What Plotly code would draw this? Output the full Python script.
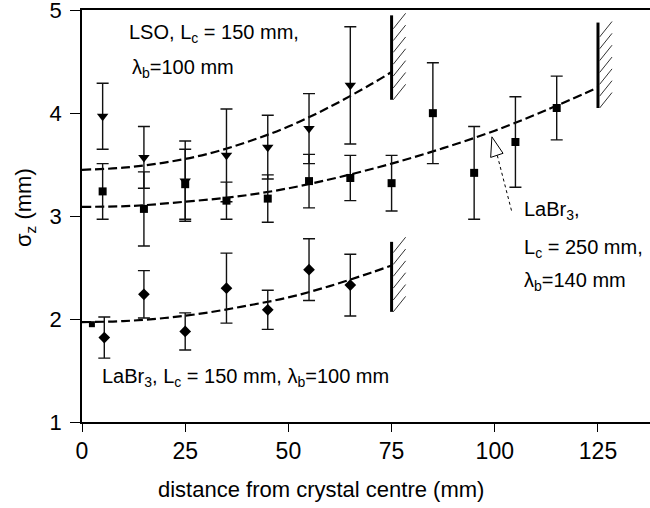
import plotly.graph_objects as go

x_lso = [5, 15, 25, 35, 45, 55, 65]
y_lso = [3.97, 3.57, 3.34, 3.59, 3.67, 3.85, 4.27]
e_lso = [0.32, 0.30, 0.39, 0.45, 0.31, 0.34, 0.57]

x_l250 = [5, 15, 25, 35, 45, 55, 65, 75, 85, 95, 105, 115]
y_l250 = [3.24, 3.07, 3.31, 3.15, 3.17, 3.34, 3.37, 3.32, 4.00, 3.42, 3.72, 4.05]
e_l250 = [0.27, 0.36, 0.34, 0.18, 0.23, 0.26, 0.22, 0.27, 0.49, 0.45, 0.44, 0.31]

x_l150 = [5.4, 15, 25, 35, 45, 55, 65]
y_l150 = [1.82, 2.24, 1.88, 2.30, 2.09, 2.48, 2.33]
e_l150 = [0.20, 0.23, 0.18, 0.34, 0.19, 0.30, 0.30]

x_extra = [2.4]
y_extra = [1.95]

# dashed model curves
fit_lso_x = [0, 10, 20, 30, 40, 50, 60, 70, 75]
fit_lso_y = [3.45, 3.47, 3.52, 3.60, 3.72, 3.87, 4.06, 4.28, 4.40]
fit_l250_x = [0, 12.5, 25, 37.5, 50, 62.5, 75, 87.5, 100, 112.5, 125]
fit_l250_y = [3.09, 3.10, 3.14, 3.19, 3.27, 3.38, 3.51, 3.66, 3.83, 4.03, 4.25]
fit_l150_x = [0, 10, 20, 30, 40, 50, 60, 70, 75]
fit_l150_y = [1.97, 1.98, 2.01, 2.06, 2.13, 2.21, 2.32, 2.45, 2.52]

# crystal ends (x, bottom, top)
walls = [(75, 4.13, 4.95), (125, 4.05, 4.88), (75, 2.07, 2.75)]

x_ticks = [0, 25, 50, 75, 100, 125]
y_ticks = [1, 2, 3, 4, 5]

FONT = "Liberation Sans, Arial, sans-serif"

fig = go.Figure()

for fx, fy in [(fit_lso_x, fit_lso_y), (fit_l250_x, fit_l250_y), (fit_l150_x, fit_l150_y)]:
    fig.add_trace(go.Scatter(x=fx, y=fy, mode="lines", line_shape="spline",
                             line=dict(color="black", width=2.2, dash="9px,4px"),
                             hoverinfo="skip"))

err = dict(type="data", thickness=1.4, width=6, color="#111")
fig.add_trace(go.Scatter(x=x_lso, y=y_lso, mode="markers",
                         error_y=dict(array=e_lso, **err),
                         marker=dict(symbol="triangle-down", size=10, color="black")))
fig.add_trace(go.Scatter(x=x_l250, y=y_l250, mode="markers",
                         error_y=dict(array=e_l250, **err),
                         marker=dict(symbol="square", size=8, color="black")))
fig.add_trace(go.Scatter(x=x_l150, y=y_l150, mode="markers",
                         error_y=dict(array=e_l150, **err),
                         marker=dict(symbol="diamond", size=9, color="black")))
fig.add_trace(go.Scatter(x=x_extra, y=y_extra, mode="markers",
                         marker=dict(symbol="square", size=6, color="black")))

shapes = []
for wx, yb, yt in walls:
    shapes.append(dict(type="line", x0=wx, x1=wx, y0=yb, y1=yt,
                       line=dict(color="black", width=3)))
    y = yb
    while y < yt - 0.05:
        shapes.append(dict(type="line", x0=wx + 0.4, y0=y, x1=wx + 3.4, y1=y + 0.15,
                           line=dict(color="#333", width=1)))
        y += 0.115

# arrow pointing to the LaBr3 250 mm curve
shapes.append(dict(type="line", x0=100.6, y0=3.59, x1=104.2, y1=3.03,
                   line=dict(color="black", width=1, dash="dot")))
shapes.append(dict(type="path", path="M 99.3 3.77 L 99.0 3.57 L 102.0 3.61 Z",
                   fillcolor="white", line=dict(color="black", width=1)))

ann_font = dict(family=FONT, size=20, color="black")
annotations = [
    dict(x=10.9, y=4.77, text="LSO, L<sub>c</sub> = 150 mm,", xanchor="left"),
    dict(x=11.6, y=4.43, text="λ<sub>b</sub>=100 mm", xanchor="left"),
    dict(x=4.4, y=1.43, text="LaBr<sub>3</sub>, L<sub>c</sub> = 150 mm, λ<sub>b</sub>=100 mm", xanchor="left"),
    dict(x=106.6, y=3.05, text="LaBr<sub>3</sub>,", xanchor="left"),
    dict(x=106.6, y=2.69, text="L<sub>c</sub> = 250 mm,", xanchor="left"),
    dict(x=106.6, y=2.36, text="λ<sub>b</sub>=140 mm", xanchor="left"),
]
for a in annotations:
    a.update(xref="x", yref="y", yanchor="middle", showarrow=False, font=ann_font)

annotations.append(dict(x=0.42, y=-0.165, xref="paper", yref="paper",
                        text="distance from crystal centre (mm)", showarrow=False,
                        xanchor="center", yanchor="middle",
                        font=dict(family=FONT, size=22, color="black")))
annotations.append(dict(x=-0.1, y=0.52, xref="paper", yref="paper",
                        text="σ<sub>z</sub> (mm)", showarrow=False, textangle=-90,
                        xanchor="center", yanchor="middle",
                        font=dict(family=FONT, size=22, color="black")))

fig.update_layout(
    width=650, height=508,
    margin=dict(l=82, r=0, t=10, b=86, autoexpand=False),
    paper_bgcolor="white", plot_bgcolor="white",
    showlegend=False,
    shapes=shapes,
    annotations=annotations,
    font=dict(family=FONT, color="black"),
)
fig.update_xaxes(range=[0, 137.6], tickvals=x_ticks, ticks="outside", ticklen=8,
                 tickwidth=1.2, tickcolor="black", showline=True, linecolor="black",
                 linewidth=1.5, mirror=True, showgrid=False, zeroline=False,
                 tickfont=dict(family=FONT, size=23, color="black"))
fig.update_yaxes(range=[1, 5.002], tickvals=y_ticks, ticks="outside", ticklen=10,
                 tickwidth=1.2, tickcolor="black", showline=True, linecolor="black",
                 linewidth=1.5, showgrid=False, zeroline=False,
                 ticklabeloverflow="allow", ticklabelstandoff=4,
                 tickfont=dict(family=FONT, size=22, color="black"))

fig.write_html("out.html", config={"displayModeBar": False},
               post_script="document.body.style.margin='0';document.body.style.overflow='hidden';")
